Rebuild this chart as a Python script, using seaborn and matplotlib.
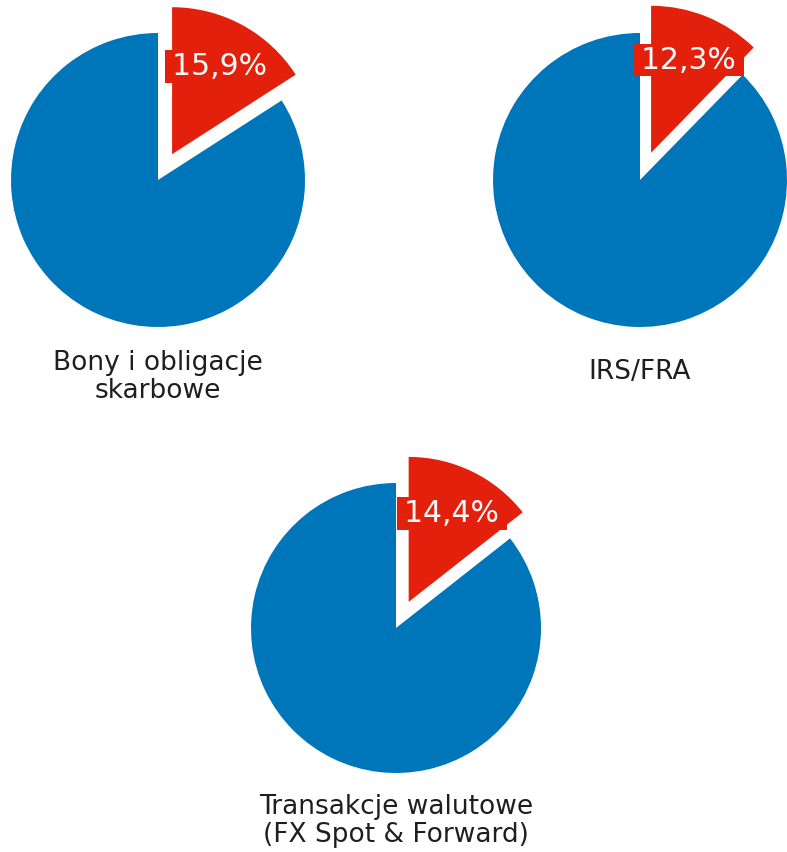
import matplotlib
matplotlib.use("Agg")
import matplotlib.pyplot as plt
import seaborn as sns

sns.set_theme(style="white")
plt.rcParams['font.family'] = ['DejaVu Sans']

categories = ["Bony i obligacje\nskarbowe", "IRS/FRA", "Transakcje walutowe\n(FX Spot & Forward)"]
shares = [15.9, 12.3, 14.4]
RED = "#E2200C"
BLUE = "#0076BA"

W, H = 787, 852
fig = plt.figure(figsize=(W / 100, H / 100), dpi=100)

# pie centre (px from top-left), radius px, label centre y
layout = [
    (158, 180, 147, 377),
    (640, 180, 147, 372),
    (396, 628, 145, 821),
]

for cat, share, (cx, cy, r, ly) in zip(categories, shares, layout):
    box = 360
    ax = fig.add_axes([(cx - box / 2) / W, 1 - (cy + box / 2) / H, box / W, box / H])
    lim = box / 2 / r
    wedges, texts, autotexts = ax.pie(
        [share, 100 - share],
        colors=[RED, BLUE],
        startangle=90,
        counterclock=False,
        explode=[0.2, 0],
        radius=1,
        autopct=lambda p: ("\u2009" + f"{p:.1f}%".replace(".", ",") + "\u2009") if p < 50 else "",
        pctdistance=0.68,
        wedgeprops=dict(linewidth=0),
    )
    ax.set_xlim(-lim, lim)
    ax.set_ylim(-lim, lim)
    ax.set_aspect("equal")
    ax.axis("off")
    for t in autotexts:
        t.set_color("#FAFAFA")
        t.set_fontsize(21.5)
        t.set_bbox(dict(boxstyle="square,pad=0.06", facecolor=RED, edgecolor="none"))
    fig.text(cx / W, 1 - ly / H, cat, ha="center", va="center",
             fontsize=19, color="#1E1E1E", linespacing=1.12)

fig.savefig("out.png", dpi=100, facecolor="white")
